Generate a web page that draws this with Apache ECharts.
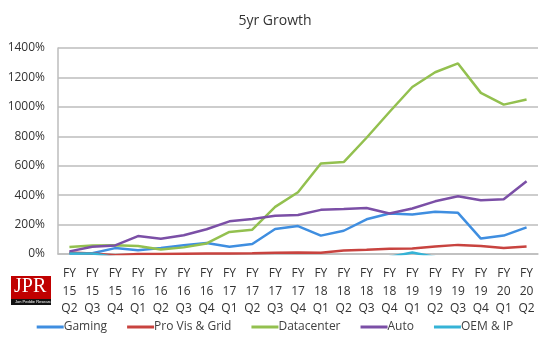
<!DOCTYPE html>
<html><head><meta charset="utf-8">
<script src="https://cdn.jsdelivr.net/npm/echarts@6/dist/echarts.min.js"></script>
<style>html,body{margin:0;padding:0;background:#fff}#c{width:550px;height:341px}</style>
</head><body><div id="c"></div>
<script>
const categories = ["FY 15 Q2","FY 15 Q3","FY 15 Q4","FY 16 Q1","FY 16 Q2","FY 16 Q3","FY 16 Q4","FY 17 Q1","FY 17 Q2","FY 17 Q3","FY 17 Q4","FY 18 Q1","FY 18 Q2","FY 18 Q3","FY 18 Q4","FY 19 Q1","FY 19 Q2","FY 19 Q3","FY 19 Q4","FY 20 Q1","FY 20 Q2"];
const gaming     = [5, 5, 40, 25, 40, 60, 75, 50, 68, 170, 190, 125, 158, 236, 275, 268, 287, 280, 105, 125, 181];
const proVis     = [10, 3, -8, 0, 0, 2, 3, 3, 5, 8, 10, 8, 24, 29, 35, 37, 51, 62, 55, 40, 51];
const datacenter = [48, 57, 60, 55, 30, 45, 72, 150, 165, 320, 420, 615, 625, 790, 965, 1135, 1235, 1295, 1095, 1015, 1050];
const auto       = [18, 49, 58, 122, 103, 128, 168, 222, 238, 260, 265, 300, 305, 313, 275, 309, 358, 392, 366, 372, 494];
const oemIP      = [4, 4, -20, -40, -50, -50, -50, -50, -50, -50, -50, -50, -50, -40, -20, 10, -20, -30, -40, -50, -50];
const seriesNames = ["Gaming", "Pro Vis & Grid", "Datacenter", "Auto", "OEM & IP"];
const seriesColors = ["#3f8ee0", "#c8433f", "#93c04f", "#7b4fa6", "#35b3d6"];
const yTicks = {min: 0, max: 1400, interval: 200};

const chart = echarts.init(document.getElementById('c'), null, {renderer: 'canvas'});
const font = "'Open Sans', 'Liberation Sans', sans-serif";
const data = [gaming, proVis, datacenter, auto, oemIP];
chart.setOption({
  animation: false,
  backgroundColor: '#fff',
  title: {text: '5yr Growth', left: 'center', top: 9, textStyle: {fontFamily: font, fontSize: 14, fontWeight: 'normal', color: '#333'}},
  grid: {left: 58, right: 12, top: 48, bottom: 87},
  legend: {bottom: 3, left: 'center', itemWidth: 27, itemHeight: 3, itemGap: 20, icon: 'rect',
    textStyle: {fontFamily: font, fontSize: 12, color: '#404040', padding: [0,0,0,-5]},
    data: seriesNames},
  xAxis: {type: 'category', data: categories, boundaryGap: true,
    axisLine: {lineStyle: {color: '#bdbdbd', width: 1.5}}, axisTick: {show: false},
    axisLabel: {interval: 0, margin: 11, fontFamily: font, fontSize: 12, lineHeight: 17.5, color: '#333',
      formatter: v => v.split(' ').join('\n')}},
  yAxis: {type: 'value', min: yTicks.min, max: yTicks.max, interval: yTicks.interval,
    axisLine: {show: true, lineStyle: {color: '#bdbdbd', width: 1.5}}, axisTick: {show: false},
    splitLine: {lineStyle: {color: '#bdbdbd', width: 1.5}},
    axisLabel: {margin: 13, fontFamily: font, fontSize: 12, color: '#333', formatter: v => v + '%'}},
  series: seriesNames.map((n, i) => ({
    name: n, type: 'line', data: data[i], symbol: 'none', clip: true,
    lineStyle: {width: 2.5, color: seriesColors[i]}, itemStyle: {color: seriesColors[i]}
  })),
  graphic: [
    {type: 'rect', left: 11, top: 276, shape: {width: 40, height: 29}, style: {fill: '#c00000'}},
    {type: 'rect', left: 11, top: 299, shape: {width: 40, height: 6}, style: {fill: '#111'}},
    {type: 'text', left: 14, top: 277, style: {text: 'JPR', fill: '#fff', font: "20px 'Liberation Serif', serif"}},
    {type: 'text', left: 15, top: 300, style: {text: 'Jon Peddie Research', fill: '#fff', font: "4px 'Liberation Sans', sans-serif"}}
  ]
});
</script></body></html>
